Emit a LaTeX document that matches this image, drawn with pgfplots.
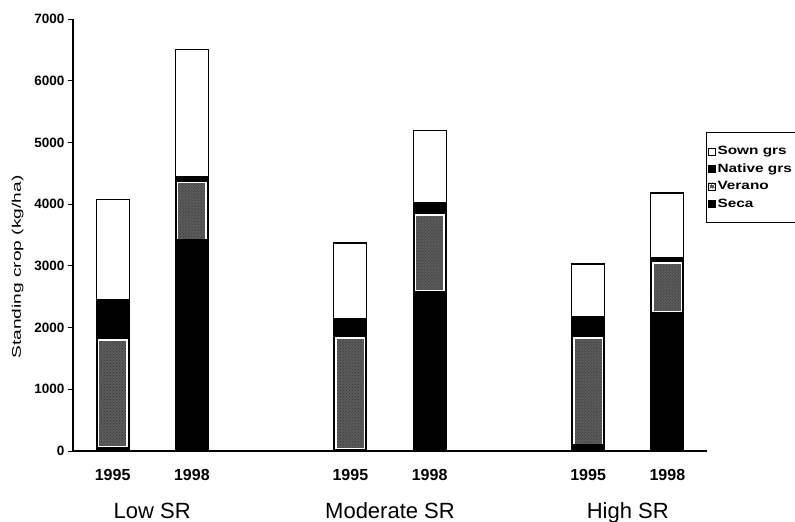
\documentclass[border=0pt]{standalone}
\usepackage{pgfplots}
\pgfplotsset{compat=1.18}
\usepackage{graphicx}
\usepackage{fontspec}
\setmainfont{Liberation Sans}
\usetikzlibrary{patterns}
\definecolor{veranogrey}{gray}{0.36}

\begin{document}
\begin{tikzpicture}
% common geometry
\pgfplotsset{
  mybase/.style={
    width=634bp, height=432bp, scale only axis,
    xmin=0, xmax=8, ymin=0, ymax=7000,
    at={(0,0)}, anchor=south west,
  }
}
% background: black behind Verano segments (full width)
\begin{axis}[mybase, hide axis, ybar stacked, bar width=33bp]
\addplot[fill=black, draw=black, line width=1.2bp] coordinates
  {(0.5,1800) (1.5,4350) (3.5,1830) (4.5,3825) (6.5,1830) (7.5,3045)};
\end{axis}
% main stacked axis
\begin{axis}[mybase,
  ybar stacked,
  axis lines*=left,
  clip=false,
  axis line style={line width=1.2bp},
  tick align=outside,
  major tick length=5bp,
  minor tick length=6bp,
  tick style={line width=1bp, black},
  xtick={0.5,1.5,3.5,4.5,6.5,7.5},
  xticklabels={1995,1998,1995,1998,1995,1998},
  xtick style={draw=none},
  minor xtick={0,1,2,3,4,5,6,7,8},
  ytick={0,1000,...,7000},
  /pgf/number format/1000 sep={},
  /pgf/number format/assume math mode=true,
  yticklabel style={font=\fontsize{13.5bp}{15bp}\selectfont\bfseries},
  xticklabel style={font=\fontsize{16bp}{18bp}\selectfont\bfseries, yshift=-10bp},
  ylabel={\scalebox{1.53}[1]{Standing crop (kg/ha)}},
  ylabel style={font=\fontsize{12.5bp}{14bp}\selectfont, at={(rel axis cs:-0.0875,0.426)}, anchor=center},
  reverse legend,
  legend style={at={(rel axis cs:0.9985,0.738)}, anchor=north west,
    draw=black, line width=0.8bp, inner xsep=1.5bp, inner ysep=12bp,
    font=\fontsize{12bp}{13bp}\selectfont\bfseries, row sep=3.5bp},
  legend cell align=left,
]
\addplot[fill=black, draw=black, line width=1.2bp, bar width=33bp,
  legend image code/.code={\draw[fill=black,draw=black,line width=0.6bp] (0bp,-3.5bp) rectangle (7bp,3.5bp);}]
  coordinates {(0.5,60) (1.5,3430) (3.5,30) (4.5,2590) (6.5,100) (7.5,2250)};
\addlegendentry{\scalebox{1.28}[1]{Seca}}
\addplot[fill=veranogrey, draw=white, line width=1.6bp, bar width=28.5bp,
  postaction={pattern=crosshatch dots, pattern color=black!80},
  legend image code/.code={\draw[fill=white,draw=black,line width=0.6bp] (0bp,-3.5bp) rectangle (7bp,3.5bp); \fill[veranogrey] (2.5bp,-1bp) rectangle (4.5bp,1bp);}]
  coordinates {(0.5,1740) (1.5,920) (3.5,1800) (4.5,1235) (6.5,1730) (7.5,795)};
\addlegendentry{\scalebox{1.28}[1]{Verano}}
\addplot[fill=black, draw=black, line width=1.2bp, bar width=33bp,
  legend image code/.code={\draw[fill=black,draw=black,line width=0.6bp] (0bp,-3.5bp) rectangle (7bp,3.5bp);}]
  coordinates {(0.5,650) (1.5,90) (3.5,310) (4.5,195) (6.5,340) (7.5,85)};
\addlegendentry{\scalebox{1.28}[1]{Native grs}}
\addplot[fill=white, draw=black, line width=1.2bp, bar width=33bp,
  legend image code/.code={\draw[fill=white,draw=black,line width=0.6bp] (0bp,-3.5bp) rectangle (7bp,3.5bp);}]
  coordinates {(0.5,1620) (1.5,2070) (3.5,1230) (4.5,1170) (6.5,860) (7.5,1050)};
\addlegendentry{\scalebox{1.28}[1]{Sown grs}}
\node[font=\fontsize{22bp}{25bp}\selectfont, anchor=base] at (axis cs:1,0) [yshift=-67bp] {Low SR};
\node[font=\fontsize{22bp}{25bp}\selectfont, anchor=base] at (axis cs:4,0) [yshift=-67bp] {Moderate SR};
\node[font=\fontsize{22bp}{25bp}\selectfont, anchor=base] at (axis cs:7,0) [yshift=-67bp] {High SR};
\end{axis}
\pgfresetboundingbox
\path[use as bounding box] (-73bp,-71bp) rectangle (722bp,451bp);
\end{tikzpicture}
\end{document}
